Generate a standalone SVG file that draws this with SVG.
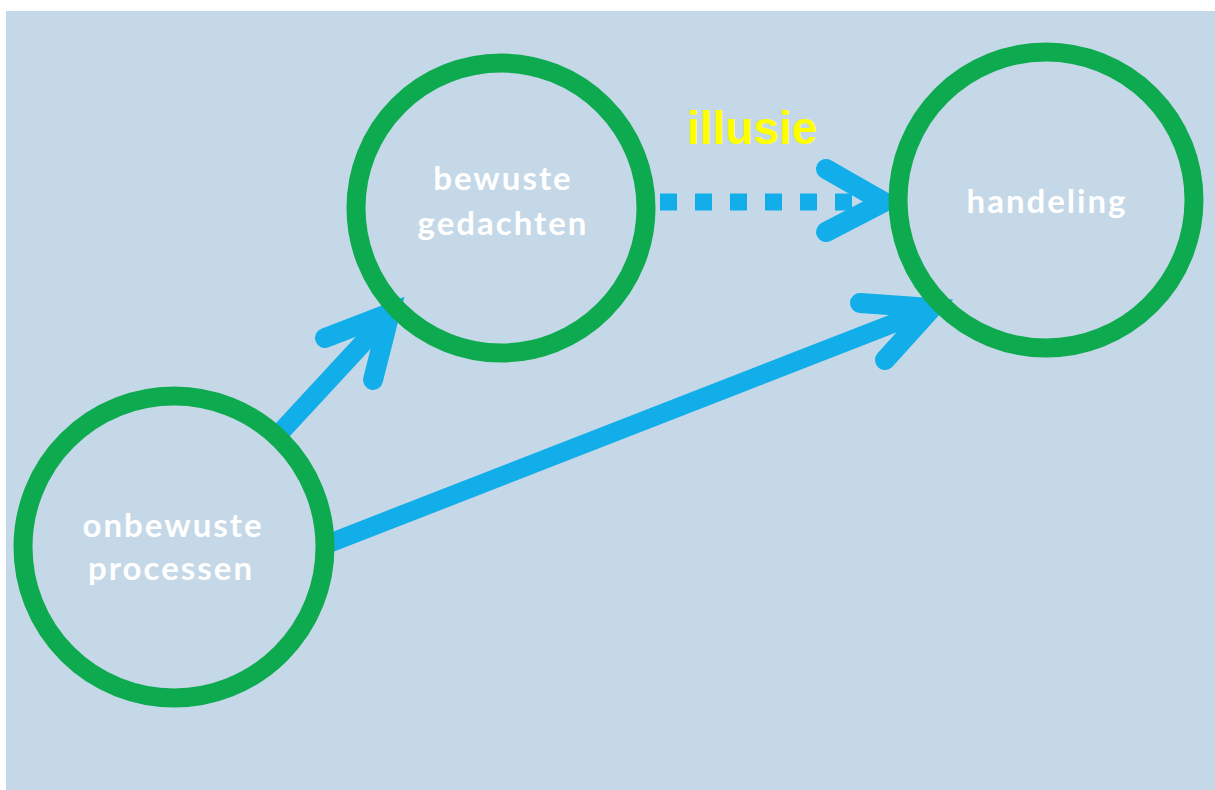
<svg xmlns="http://www.w3.org/2000/svg" width="1215" height="790" viewBox="0 0 1215 790">
  <style>
    .ring { fill: none; stroke: #0eaa4f; stroke-width: 19; }
    .lbl { font-family: Lato, "Open Sans", sans-serif; font-weight: 700; font-size: 33px; letter-spacing: 2px; fill: #ffffff; text-anchor: middle; }
    .con { fill: none; stroke: #12aeea; stroke-width: 19; stroke-linecap: round; stroke-linejoin: round; }
    .head { fill: none; stroke: #12aeea; stroke-width: 20; stroke-linecap: round; stroke-linejoin: miter; stroke-miterlimit: 10; }
    .dash { fill: none; stroke: #12aeea; stroke-width: 17; stroke-dasharray: 17 18; }
    .ill { font-family: "Liberation Sans", Arial, sans-serif; font-weight: 700; font-size: 46px; fill: #ffff00; }
  </style>
  <rect x="6" y="11" width="1209" height="779" fill="#c5d8e7"/>
  <g id="connectors">
    <line class="con" x1="277" y1="436" x2="388" y2="316"/>
    <polyline class="head" points="325,338 390,313 373,380"/>
    <line class="con" x1="330" y1="543" x2="928" y2="310"/>
    <polyline class="head" points="860,303 932,308 885,360"/>
    <line class="dash" x1="660" y1="202" x2="875" y2="202"/>
    <polyline class="head" points="826,169 884,202 826,232"/>
    <text class="ill" x="687" y="144">illusie</text>
  </g>
  <g id="onbewuste">
    <circle class="ring" cx="174" cy="547" r="151"/>
    <text class="lbl" x="173" y="537">onbewuste</text>
    <text class="lbl" x="171" y="580">processen</text>
  </g>
  <g id="bewuste">
    <circle class="ring" cx="501" cy="208" r="145"/>
    <text class="lbl" x="503" y="190">bewuste</text>
    <text class="lbl" x="503" y="235">gedachten</text>
  </g>
  <g id="handeling">
    <circle class="ring" cx="1046" cy="200" r="148"/>
    <text class="lbl" x="1047" y="213">handeling</text>
  </g>
</svg>
